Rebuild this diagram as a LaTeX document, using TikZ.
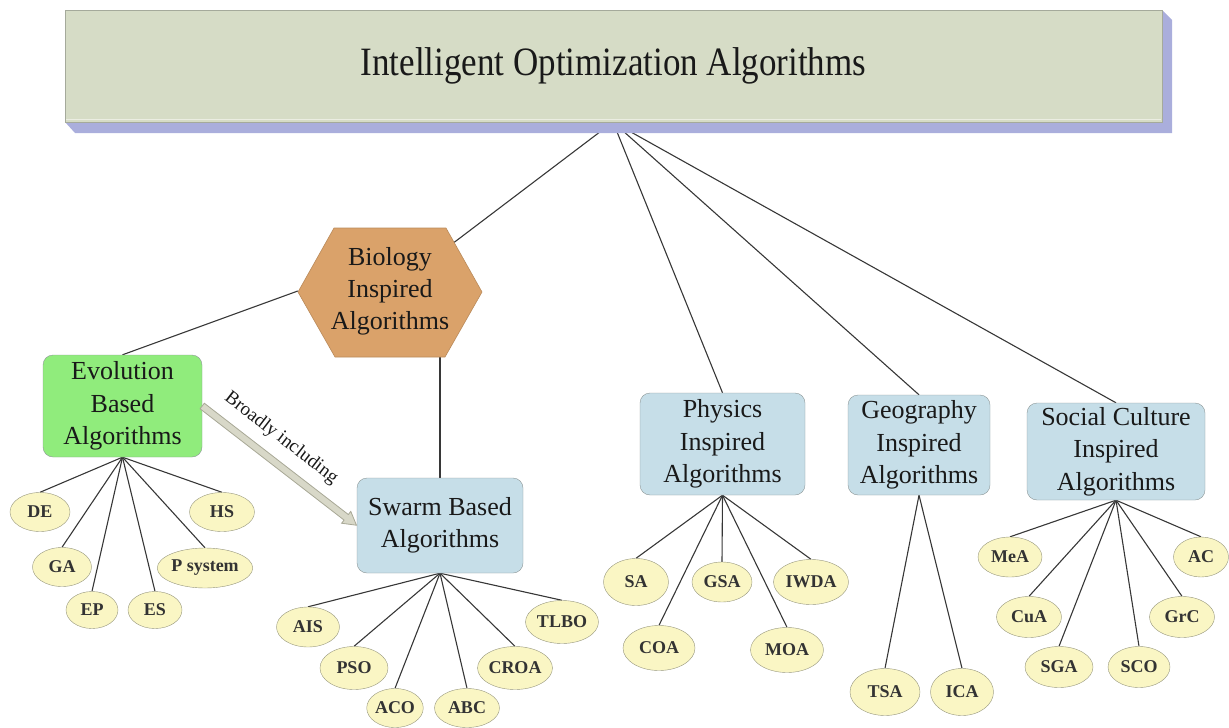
\documentclass[tikz,border=0pt]{standalone}
\usepackage{fontspec}
\setmainfont{Liberation Serif}
\usetikzlibrary{shapes.geometric,calc,backgrounds}

\definecolor{facecol}{RGB}{214,220,198}
\definecolor{faceedge}{RGB}{165,170,155}
\definecolor{sidecol}{RGB}{170,174,220}
\definecolor{hexcol}{RGB}{218,162,106}
\definecolor{evocol}{RGB}{144,236,124}
\definecolor{bluecol}{RGB}{198,222,232}
\definecolor{boxedge}{RGB}{140,150,150}
\definecolor{leafcol}{RGB}{250,246,196}
\definecolor{leafedge}{RGB}{150,150,125}
\definecolor{linecol}{RGB}{55,55,55}
\definecolor{arrowfill}{RGB}{216,216,200}
\definecolor{arrowedge}{RGB}{168,168,150}

\tikzset{
  titlebox/.style={draw=faceedge, fill=facecol, inner sep=0pt,
    font=\fontsize{35}{40}\selectfont, text=black!90},
  catbox/.style={draw=boxedge, rounded corners=10pt, align=center, inner sep=0pt,
    font=\fontsize{26}{32.5}\selectfont, text=black!90},
  biotext/.style={align=center, inner sep=0pt,
    font=\fontsize{26}{32}\selectfont, text=black!90},
  leaf/.style 2 args={ellipse, draw=leafedge, fill=leafcol, inner sep=0pt,
    minimum width=#1pt, minimum height=#2pt,
    font=\fontsize{18}{18}\selectfont\bfseries, text=black!80},
  link/.style={draw=linecol, line width=1.1pt},
}

\begin{document}
\begin{tikzpicture}[x=1pt,y=-1pt]
\useasboundingbox (0,0) rectangle (1229,728);

% extruded title slab
\fill[sidecol] (65,122) -- (75,133) -- (1172,133) -- (1172,20) -- (1162,10) -- (1162,122) -- cycle;
\node[titlebox, minimum width=1097pt, minimum height=112pt] (top) at (613.5,66)
  {\scalebox{1}[1.15]{Intelligent Optimization Algorithms}};
\draw[facecol!50!white, line width=1pt] (66,119) -- (1161,119);
\coordinate (hub) at (613,122);

% hexagon for the biology branch
\filldraw[fill=hexcol, draw=hexcol!85!black, line width=0.6pt]
  (298,292) -- (334,228) -- (446,228) -- (482,292) -- (445,357) -- (335,357) -- cycle;
\node[biotext, minimum width=184pt, minimum height=129pt] (bio) at (390,291)
  {Biology\\Inspired\\Algorithms};

% category boxes
\node[catbox, fill=evocol, minimum width=159pt, minimum height=102pt] (evo) at (122.5,406)
  {Evolution\\Based\\Algorithms};
\node[catbox, fill=bluecol, minimum width=166pt, minimum height=95pt] (sw) at (440,525.5)
  {Swarm Based\\Algorithms};
\node[catbox, fill=bluecol, minimum width=165pt, minimum height=102pt] (phys) at (722.5,444)
  {Physics\\Inspired\\Algorithms};
\node[catbox, fill=bluecol, minimum width=142pt, minimum height=100pt] (geo) at (919,445)
  {Geography\\Inspired\\Algorithms};
\node[catbox, fill=bluecol, minimum width=178pt, minimum height=97pt] (soc) at (1116,451.5)
  {Social Culture\\Inspired\\Algorithms};

% evolution leaves
\node[leaf={60}{39}] (de) at (40,512) {DE};
\node[leaf={59}{39}] (ga) at (62,567) {GA};
\node[leaf={52}{37}] (ep) at (92,610) {EP};
\node[leaf={54}{37}] (es) at (155,610) {ES};
\node[leaf={86}{40}] (psys) at (205,568) {P system};
\node[leaf={65}{39}] (hs) at (222,512) {HS};

% swarm leaves
\node[leaf={63}{40}] (ais) at (308,627) {AIS};
\node[leaf={68}{43}] (pso) at (354,668) {PSO};
\node[leaf={56}{39}] (aco) at (395,708) {ACO};
\node[leaf={65}{39}] (abc) at (467,708) {ABC};
\node[leaf={74}{43}] (croa) at (515,668) {CROA};
\node[leaf={73}{43}] (tlbo) at (562,622) {TLBO};

% physics leaves
\node[leaf={65}{47}] (sa) at (636,582) {SA};
\node[leaf={72}{45}] (coa) at (659,648) {COA};
\node[leaf={60}{40}] (gsa) at (722,582) {GSA};
\node[leaf={73}{45}] (moa) at (787,650) {MOA};
\node[leaf={75}{45}] (iwda) at (811,582) {IWDA};

% geography leaves
\node[leaf={70}{47}] (tsa) at (885,692) {TSA};
\node[leaf={63}{47}] (ica) at (962,692) {ICA};

% social culture leaves
\node[leaf={64}{40}] (mea) at (1010,557) {MeA};
\node[leaf={65}{41}] (cua) at (1029,617) {CuA};
\node[leaf={68}{41}] (sga) at (1059,667) {SGA};
\node[leaf={62}{41}] (sco) at (1139,667) {SCO};
\node[leaf={65}{41}] (grc) at (1182,617) {GrC};
\node[leaf={55}{40}] (ac) at (1201,557) {AC};

% "broadly including" arrow
\begin{scope}[shift={(evo.east)}, rotate=-37.7]
  \filldraw[fill=arrowfill, draw=arrowedge, line width=0.8pt]
    (0,-3.5) -- (182,-3.5) -- (182,-7.5) -- (195,0) -- (182,7.5) -- (182,3.5) -- (0,3.5) -- cycle;
\end{scope}
\node[rotate=-37.7, anchor=south, inner xsep=0pt, inner ysep=14pt,
  font=\fontsize{19}{19}\selectfont, text=black!90] (lbl)
  at ($(evo.east)!0.42!(sw.west)$) {Broadly including};

% connectors
\begin{scope}[on background layer]
  \draw[link] (hub) -- (bio.center);
  \draw[link] (hub) -- (phys.north);
  \draw[link] (hub) -- (geo.north);
  \draw[link] (hub) -- (soc.north);
  \draw[link] (bio.west) -- (evo.north);
  \draw[link] (sw.north) -- (sw.north |- bio.south);
  \foreach \c in {de,ga,ep,es,psys,hs} \draw[link] (evo.south) -- (\c.north);
  \foreach \c in {ais,pso,aco,abc,croa,tlbo} \draw[link] (sw.south) -- (\c.north);
  \foreach \c in {sa,coa,gsa,moa,iwda} \draw[link] (phys.south) -- (\c.north);
  \foreach \c in {tsa,ica} \draw[link] (geo.south) -- (\c.north);
  \foreach \c in {mea,cua,sga,sco,grc,ac} \draw[link] (soc.south) -- (\c.north);
\end{scope}
\end{tikzpicture}
\end{document}
